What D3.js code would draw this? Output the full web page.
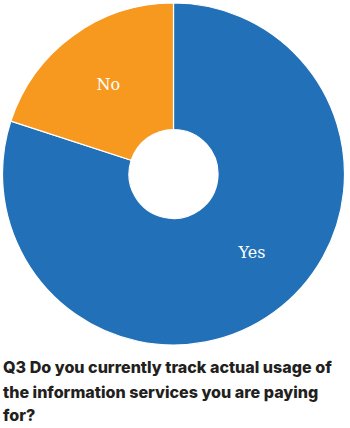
<!DOCTYPE html>
<html><head><meta charset="utf-8">
<script src="https://cdn.jsdelivr.net/npm/d3@7"></script>
<style>html,body{margin:0;padding:0;background:#fff;}</style>
</head><body>
<svg id="chart" width="350" height="428"></svg>
<script>
const categories = ["Yes", "No"];
const values = [80, 20];
const colors = ["#2271b8", "#f7991f"];
const titleLines = ["Q3 Do you currently track actual usage of", "the information services you are paying", "for?"];

const svg = d3.select("#chart");
const cx = 173.5, cy = 174, outerR = 171, innerR = 44.5;
const g = svg.append("g").attr("transform", `translate(${cx},${cy})`);

const pie = d3.pie().sort(null).value(d => d.value).startAngle(0).endAngle(2 * Math.PI);
const arcs = pie(categories.map((c, i) => ({ cat: c, value: values[i], color: colors[i] })));
const arc = d3.arc().innerRadius(innerR).outerRadius(outerR);

g.selectAll("path.slice").data(arcs).join("path")
  .attr("class", "slice")
  .attr("d", arc)
  .attr("fill", d => d.data.color)
  .attr("stroke", "#fff")
  .attr("stroke-width", 1.2);

const labelR = 111;
const nudge = [-9 * Math.PI / 180, 0];
g.selectAll("text.lbl").data(arcs).join("text")
  .attr("class", "lbl")
  .attr("x", (d, i) => labelR * Math.sin((d.startAngle + d.endAngle) / 2 + nudge[i]))
  .attr("y", (d, i) => -labelR * Math.cos((d.startAngle + d.endAngle) / 2 + nudge[i]))
  .attr("dy", "0.35em")
  .attr("text-anchor", "middle")
  .attr("fill", "#fff")
  .style("font-family", "'DejaVu Serif', serif")
  .style("font-size", "16px")
  .text(d => d.data.cat);

const title = svg.append("g");
const baselines = [373, 397.5, 421];
title.selectAll("text").data(titleLines).join("text")
  .attr("x", 3)
  .attr("y", (d, i) => baselines[i])
  .attr("fill", "#231f20")
  .style("font-family", "Inter, sans-serif")
  .style("font-weight", "800")
  .style("font-size", "16px")
  .text(d => d);
// fit first line to reference width
const w = title.select("text").node().getComputedTextLength();
const fs = 16 * 329 / w;
title.selectAll("text").style("font-size", fs + "px");
</script>
</body></html>
